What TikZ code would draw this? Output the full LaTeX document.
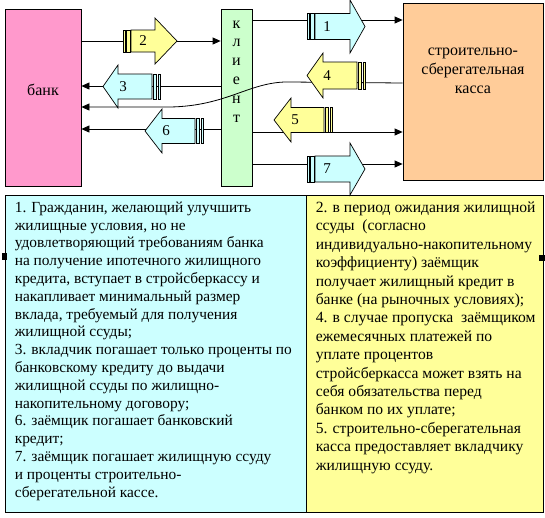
\documentclass[tikz,border=0pt]{standalone}
\usepackage{fontspec}
\setmainfont{Liberation Serif}
\usetikzlibrary{arrows.meta}
\definecolor{bankpink}{HTML}{FF99CC}
\definecolor{clientgreen}{HTML}{CCFFCC}
\definecolor{kassaorange}{HTML}{FFCC99}
\definecolor{notecyan}{HTML}{CCFFFF}
\definecolor{noteyellow}{HTML}{FFFF99}

\begin{document}
\begin{tikzpicture}[x=1pt,y=-1pt,
  party/.style={draw,line width=0.8pt,minimum height=177pt,inner sep=0pt},
  partlabel/.style={font=\fontsize{16}{18.8}\selectfont,align=center},
  flow/.style={-{Triangle[length=8pt,width=7pt]},line width=0.8pt},
  fatarrow/.style={draw,line width=0.7pt},
  numlabel/.style={font=\fontsize{15}{18}\selectfont},
  notebox/.style={draw,line width=0.8pt,minimum height=317pt,inner sep=0pt},
  notetext/.style={align=left,anchor=north west,inner sep=0pt},
]
\useasboundingbox (0,0) rectangle (545,517);

% Participants
\node[party,fill=bankpink,minimum width=76pt,
      label={[partlabel,yshift=7.5pt]center:банк}] (bank) at (43,97.5) {};
\node[party,fill=clientgreen,minimum width=31pt,
      label={[partlabel,yshift=26pt]center:к\\л\\и\\е\\н\\т}] (client) at (236.5,97.5) {};
\node[party,fill=kassaorange,minimum width=140pt,
      label={[partlabel,yshift=20.5pt]center:строительно-\\сберегательная\\касса}] (kassa) at (473,91.5) {};

% Notes below
\node[notebox,fill=notecyan,minimum width=301pt] (leftnote) at (155.5,353.5) {};
\node[notebox,fill=noteyellow,minimum width=237pt] (rightnote) at (424.5,353.5) {};

% Flows between bank, client and kassa
\draw[flow] (bank.east |- 0,41) -- (client.west |- 0,41);
\draw[flow] (client.west |- 0,86) -- (bank.east |- 0,86);
\draw[flow] (kassa.west |- 0,83) -- (290,82) .. controls (250,81) and (228,106) .. (170,107)
  -- (bank.east |- 0,107);
\draw[flow] (client.west |- 0,129) -- (bank.east |- 0,129);
\draw[flow] (client.east |- 0,20) -- (kassa.west |- 0,20);
\draw[flow] (client.east |- 0,132) -- (kassa.west |- 0,132);
\draw[flow] (client.east |- 0,164) -- (kassa.west |- 0,164);

% Striped block arrows: tip/head base/body end/centre/body half/head half/colour/number/number x
\foreach \p/\hb/\e/\y/\b/\h/\c/\n/\nx in {
    365/350/315/26.5/13/26.5/notecyan/1/327,
    177/155/131/41/11/23/noteyellow/2/143,
    103/118/152/86.5/12.5/21.5/notecyan/3/123,
    307/323/357/75.5/13.5/22.5/noteyellow/4/327,
    274/291/324/120/12.5/22/noteyellow/5/295,
    145/162/195/131/12.5/22/notecyan/6/166,
    365/350/315/169/13/26/notecyan/7/327}{
  \pgfmathsetmacro{\d}{sign(\e-\p)}
  \filldraw[fatarrow,fill=\c] (\p,\y) -- (\hb,{\y-\h}) -- (\hb,{\y-\b}) -- (\e,{\y-\b})
    -- (\e,{\y+\b}) -- (\hb,{\y+\b}) -- (\hb,{\y+\h}) -- cycle;
  \filldraw[fatarrow,fill=\c] ({\e+\d*1},{\y-\b}) rectangle ({\e+\d*4.5},{\y+\b});
  \filldraw[fatarrow,fill=\c] ({\e+\d*6},{\y-\b}) rectangle ({\e+\d*8},{\y+\b});
  \node[numlabel] (num\n) at (\nx,\y) {\n};
}

% Note texts
\node[notetext,font=\fontsize{15.4}{17.8}\selectfont] (lefttext)
  at ([xshift=10pt,yshift=-7pt]leftnote.north west) {%
1. Гражданин, желающий улучшить\\
жилищные условия, но не\\
удовлетворяющий требованиям банка\\
на получение ипотечного жилищного\\
кредита, вступает в стройсберкассу и\\
накапливает минимальный размер\\
вклада, требуемый для получения\\
жилищной ссуды;\\
3. вкладчик погашает только проценты по\\
банковскому кредиту до выдачи\\
жилищной ссуды по жилищно-\\
накопительному договору;\\
6. заёмщик погашает банковский\\
кредит;\\
7. заёмщик погашает жилищную ссуду\\
и проценты строительно-\\
сберегательной кассе.};
\node[notetext,font=\fontsize{15.6}{18.4}\selectfont] (righttext)
  at ([xshift=10pt,yshift=-7pt]rightnote.north west) {%
2. в период ожидания жилищной\\
ссуды~ (согласно\\
индивидуально-накопительному\\
коэффициенту) заёмщик\\
получает жилищный кредит в\\
банке (на рыночных условиях);\\
4. в случае пропуска~ заёмщиком\\
ежемесячных платежей по\\
уплате процентов\\
стройсберкасса может взять на\\
себя обязательства перед\\
банком по их уплате;\\
5. строительно-сберегательная\\
касса предоставляет вкладчику\\
жилищную ссуду.};

% Selection marks on the note edges
\fill (2,253) rectangle (7,260);
\fill (539,255) rectangle (545,261);
\end{tikzpicture}
\end{document}
